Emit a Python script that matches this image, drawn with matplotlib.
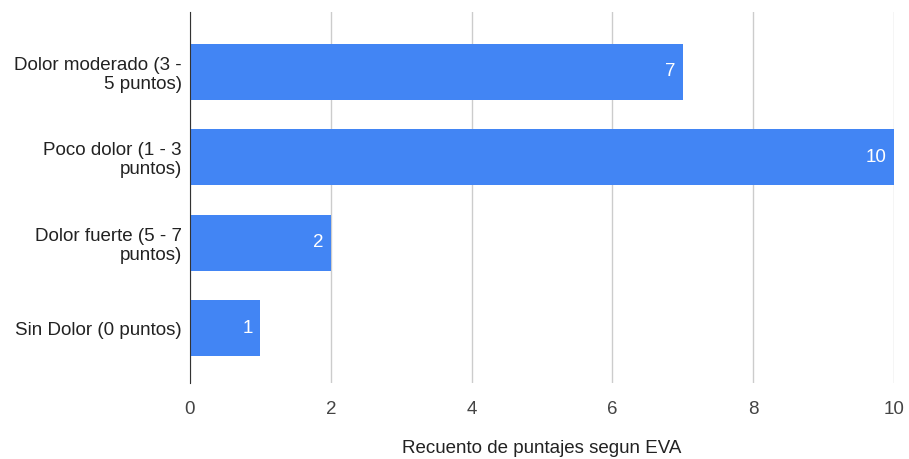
import matplotlib as ma
ma.use('agg')
import matplotlib.pyplot as plt

categorias = ['Dolor moderado (3 -\n5 puntos)', 'Poco dolor (1 - 3\npuntos)',
              'Dolor fuerte (5 - 7\npuntos)', 'Sin Dolor (0 puntos)']
recuentos = [7, 10, 2, 1]
xticks = [0, 2, 4, 6, 8, 10]

plt.rcParams['font.family'] = ['Liberation Sans', 'DejaVu Sans']

fig = plt.figure(figsize=(9.09, 4.59), dpi=100)
ax = fig.add_axes([0.209, 0.1656, 0.7745, 0.8084])

pos = list(range(len(categorias)))
bars = ax.barh(pos, recuentos, height=0.65, color='#4285F4', zorder=2)
for b, v in zip(bars, recuentos):
    ax.text(b.get_width() - 0.1, b.get_y() + b.get_height() / 2, str(v),
            ha='right', va='center', color='white', fontsize=13.5, zorder=3)

ax.set_yticks(pos)
ax.set_yticklabels(categorias, fontsize=13.5, color='#222222', linespacing=1.15)
ax.set_ylim(3.64, -0.7)
ax.set_xlim(0, 10)
ax.set_xticks(xticks)
ax.set_xticklabels([str(t) for t in xticks], fontsize=13.5, color='#444444')
ax.tick_params(length=0, pad=6)
ax.tick_params(axis='x', pad=13)
ax.grid(axis='x', color='#cccccc', linewidth=1, zorder=0)
for s in ['top', 'right', 'bottom']:
    ax.spines[s].set_visible(False)
ax.spines['left'].set_color('#333333')
ax.spines['left'].set_zorder(4)
ax.set_xlabel('Recuento de puntajes segun EVA', fontsize=13.5, color='#222222', labelpad=16)

fig.savefig('out.png', dpi=100)
